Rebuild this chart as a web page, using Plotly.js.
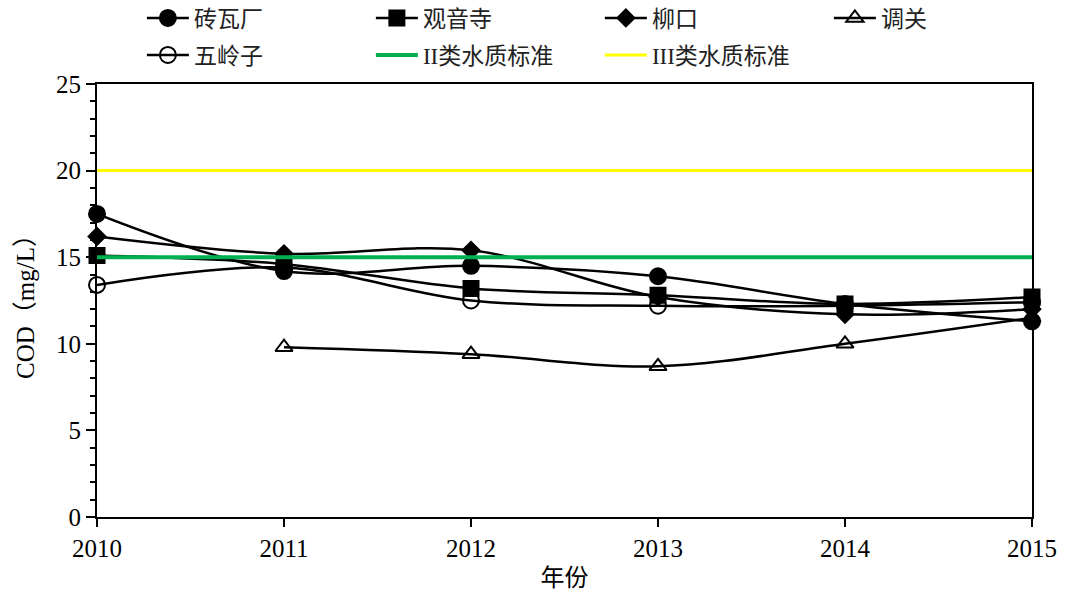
<!DOCTYPE html>
<html>
<head>
<meta charset="utf-8">
<script src="https://cdn.plot.ly/plotly-3.0.1.min.js"></script>
<style>
  html, body { margin: 0; padding: 0; background: #fff; }
  #chart { width: 1065px; height: 600px; }
</style>
</head>
<body>
<div id="chart"></div>
<script>
// Annual COD readings (mg/L) at five monitoring sites, 2010-2015
const years = [2010, 2011, 2012, 2013, 2014, 2015];
const zhuanwachang = [17.5, 14.2, 14.5, 13.9, 12.3, 11.3];
const guanyinsi    = [15.1, 14.6, 13.2, 12.8, 12.3, 12.7];
const liukou       = [16.2, 15.2, 15.4, 12.7, 11.7, 12.0];
const tiaoguan     = [null, 9.8, 9.4, 8.7, 10.0, 11.5];
const wulingzi     = [13.4, 14.4, 12.5, 12.2, 12.2, 12.4];

// Water-quality standard limits (mg/L)
const classII = 15;
const classIII = 20;

const siteNames = ['砖瓦厂', '观音寺', '柳口', '调关', '五岭子'];
const siteValues = [zhuanwachang, guanyinsi, liukou, tiaoguan, wulingzi];
const siteSymbols = ['circle', 'square', 'diamond', 'triangle-up-open', 'circle-open'];
const siteSizes = [16, 15, 13, 15, 16];
// first four sites in the top legend row, the rest in the second row
const siteLegend = ['legend', 'legend', 'legend', 'legend', 'legend2'];

const FONT = '"Liberation Serif", "Noto Sans CJK SC", serif';

const traces = siteNames.map((name, i) => ({
  x: years,
  y: siteValues[i],
  name: name,
  legend: siteLegend[i],
  type: 'scatter',
  mode: 'lines+markers',
  line: { color: '#000', width: 2.5, shape: 'spline', smoothing: 1 },
  marker: {
    symbol: siteSymbols[i],
    size: siteSizes[i],
    color: '#000',
    line: { color: '#000', width: 2 }
  },
  cliponaxis: false,
  connectgaps: false
}));

traces.push({
  x: [years[0], years[years.length - 1]],
  y: [classII, classII],
  name: 'II类水质标准',
  legend: 'legend2',
  type: 'scatter',
  mode: 'lines',
  line: { color: '#00B050', width: 4 },
  cliponaxis: false
});
traces.push({
  x: [years[0], years[years.length - 1]],
  y: [classIII, classIII],
  name: 'III类水质标准',
  legend: 'legend2',
  type: 'scatter',
  mode: 'lines',
  line: { color: '#FFFF00', width: 3 },
  cliponaxis: false
});

const legendBase = {
  orientation: 'h',
  xref: 'paper', xanchor: 'left',
  yref: 'container', yanchor: 'middle',
  itemwidth: 42,
  entrywidth: 172,
  entrywidthmode: 'pixels',
  font: { family: FONT, size: 23, color: '#222' },
  bgcolor: 'rgba(0,0,0,0)',
  borderwidth: 0
};

const layout = {
  width: 1065,
  height: 600,
  margin: { l: 97, r: 33, t: 84, b: 83, pad: 0 },
  paper_bgcolor: '#fff',
  plot_bgcolor: '#fff',
  font: { family: FONT, color: '#000', size: 22 },
  showlegend: true,
  legend: Object.assign({}, legendBase, { x: 0.048, y: 1 - 18 / 600 }),
  legend2: Object.assign({}, legendBase, { x: 0.048, y: 1 - 55 / 600 }),
  xaxis: {
    range: [2010, 2015],
    tickvals: years,
    ticktext: years.map(String),
    ticks: 'outside',
    ticklen: 8,
    tickwidth: 2,
    tickcolor: '#000',
    showline: true,
    linecolor: '#000',
    linewidth: 2,
    mirror: true,
    showgrid: false,
    zeroline: false,
    tickfont: { family: FONT, size: 25, color: '#000' },
    title: { text: '年份', font: { family: FONT, size: 24, color: '#000' }, standoff: 8 }
  },
  yaxis: {
    range: [0, 25],
    dtick: 5,
    ticks: 'outside',
    ticklen: 9,
    tickwidth: 2,
    tickcolor: '#000',
    minor: { dtick: 1, ticks: 'outside', ticklen: 5, tickwidth: 2, tickcolor: '#000' },
    showline: true,
    linecolor: '#000',
    linewidth: 2,
    mirror: true,
    showgrid: false,
    zeroline: false,
    tickfont: { family: FONT, size: 25, color: '#000' },
    title: { text: 'COD（mg/L）', font: { family: FONT, size: 25, color: '#000' }, standoff: 14 }
  }
};

Plotly.newPlot('chart', traces, layout, { displayModeBar: false, staticPlot: true });
</script>
</body>
</html>
